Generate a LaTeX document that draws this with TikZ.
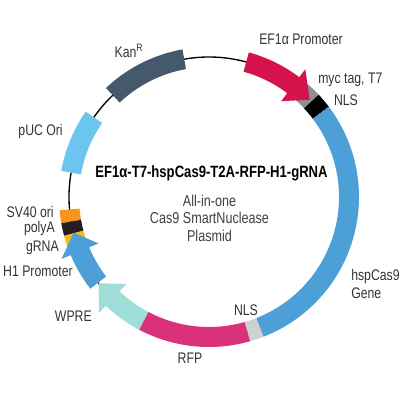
\documentclass[tikz,border=0pt]{standalone}
\usepackage{fontspec}
\setmainfont[FakeStretch=0.8]{Liberation Sans}
\usepackage{tikz}
\usetikzlibrary{positioning}

% ring piece: start angle, end angle, colour
\newcommand{\ringseg}[3]{%
  \fill[#3] (#1:150) arc[start angle=#1, end angle=#2, radius=150]
    -- (#2:130) arc[start angle=#2, end angle=#1, radius=130] -- cycle;}
% ring arrow: start angle, head base angle, tip angle, colour
\newcommand{\ringarrow}[4]{%
  \fill[#4] (#1:150) arc[start angle=#1, end angle=#2, radius=150]
    -- (#2:160) -- (#3:140) -- (#2:120)
    -- (#2:130) arc[start angle=#2, end angle=#1, radius=130] -- cycle;}

\definecolor{efred}{HTML}{D5124B}
\definecolor{tagrey}{HTML}{8F8F8F}
\definecolor{casblue}{HTML}{4C9FD7}
\definecolor{nlsgrey}{HTML}{CFD0D2}
\definecolor{rfppink}{HTML}{D9327A}
\definecolor{wpreaqua}{HTML}{9FDDD9}
\definecolor{svorange}{HTML}{F7941D}
\definecolor{grnayellow}{HTML}{FDB913}
\definecolor{polyblack}{HTML}{231F20}
\definecolor{pucsky}{HTML}{6CC5EE}
\definecolor{kanslate}{HTML}{44596B}

\begin{document}
\begin{tikzpicture}[
    scale=0.025,
    label/.style={font=\fontsize{10.9}{12.8}\selectfont, text=black!80, inner sep=0pt},
    title/.style={font=\fontsize{11.65}{13}\selectfont\bfseries, text=black, inner sep=0pt},
    note/.style={font=\fontsize{11.2}{12.4}\selectfont, text=black!75, inner sep=0pt, align=center}
]
\useasboundingbox (0,0) rectangle (400,400);

\begin{scope}[shift={(209,203)}]
% backbone
\draw[black, line width=0.95pt] (0,0) circle[radius=140];

% features, clockwise from the promoter
\ringseg{43}{50}{tagrey}
\ringseg{37}{43}{black}
\ringarrow{74.6}{53}{44}{efred}
\ringseg{-68.7}{37}{casblue}
\ringseg{-74.1}{-68.7}{nlsgrey}
\ringseg{-117.8}{-74.1}{rfppink}
\ringarrow{-117.8}{-133.5}{-142}{wpreaqua}
\ringseg{185.1}{190.1}{svorange}
\ringseg{190.1}{195}{polyblack}
\ringseg{195}{201}{grnayellow}
\ringarrow{-142.3}{-157.2}{-165.3}{casblue}
\ringseg{145.3}{170}{pucsky}
\ringseg{100.2}{133.4}{kanslate}
\end{scope}

% feature labels
\node[label] (promoter) at (301,361) {EF1α Promoter};
\node[label, anchor=west] (myctag) at (318,320) {myc tag, T7};
\node[label] (nlstop) at (346,300) {NLS};
\node[label] (kan) at (129,349) {Kan\textsuperscript{R}};
\node[label, anchor=east] (puc) at (63,268) {pUC Ori};
\node[label, anchor=east] (svori) at (54,188) {SV40 ori};
\node[label, anchor=east] (polya) at (55,171) {polyA};
\node[label, anchor=east] (grna) at (59,152) {gRNA};
\node[label, anchor=east] (hone) at (73,129) {H1 Promoter};
\node[label, anchor=east] (wpre) at (92,84) {WPRE};
\node[label] (rfp) at (190,42) {RFP};
\node[label] (nlslow) at (246,90) {NLS};
\node[label, anchor=west, align=left] (cas) at (351,116) {hspCas9\\Gene};

% plasmid name in the middle
\node[title] (name) at (211.5,227) {EF1α-T7-hspCas9-T2A-RFP-H1-gRNA};
\node[note] (kind) at (209.5,182) {All-in-one\\Cas9 SmartNuclease\\Plasmid};

\end{tikzpicture}
\end{document}
